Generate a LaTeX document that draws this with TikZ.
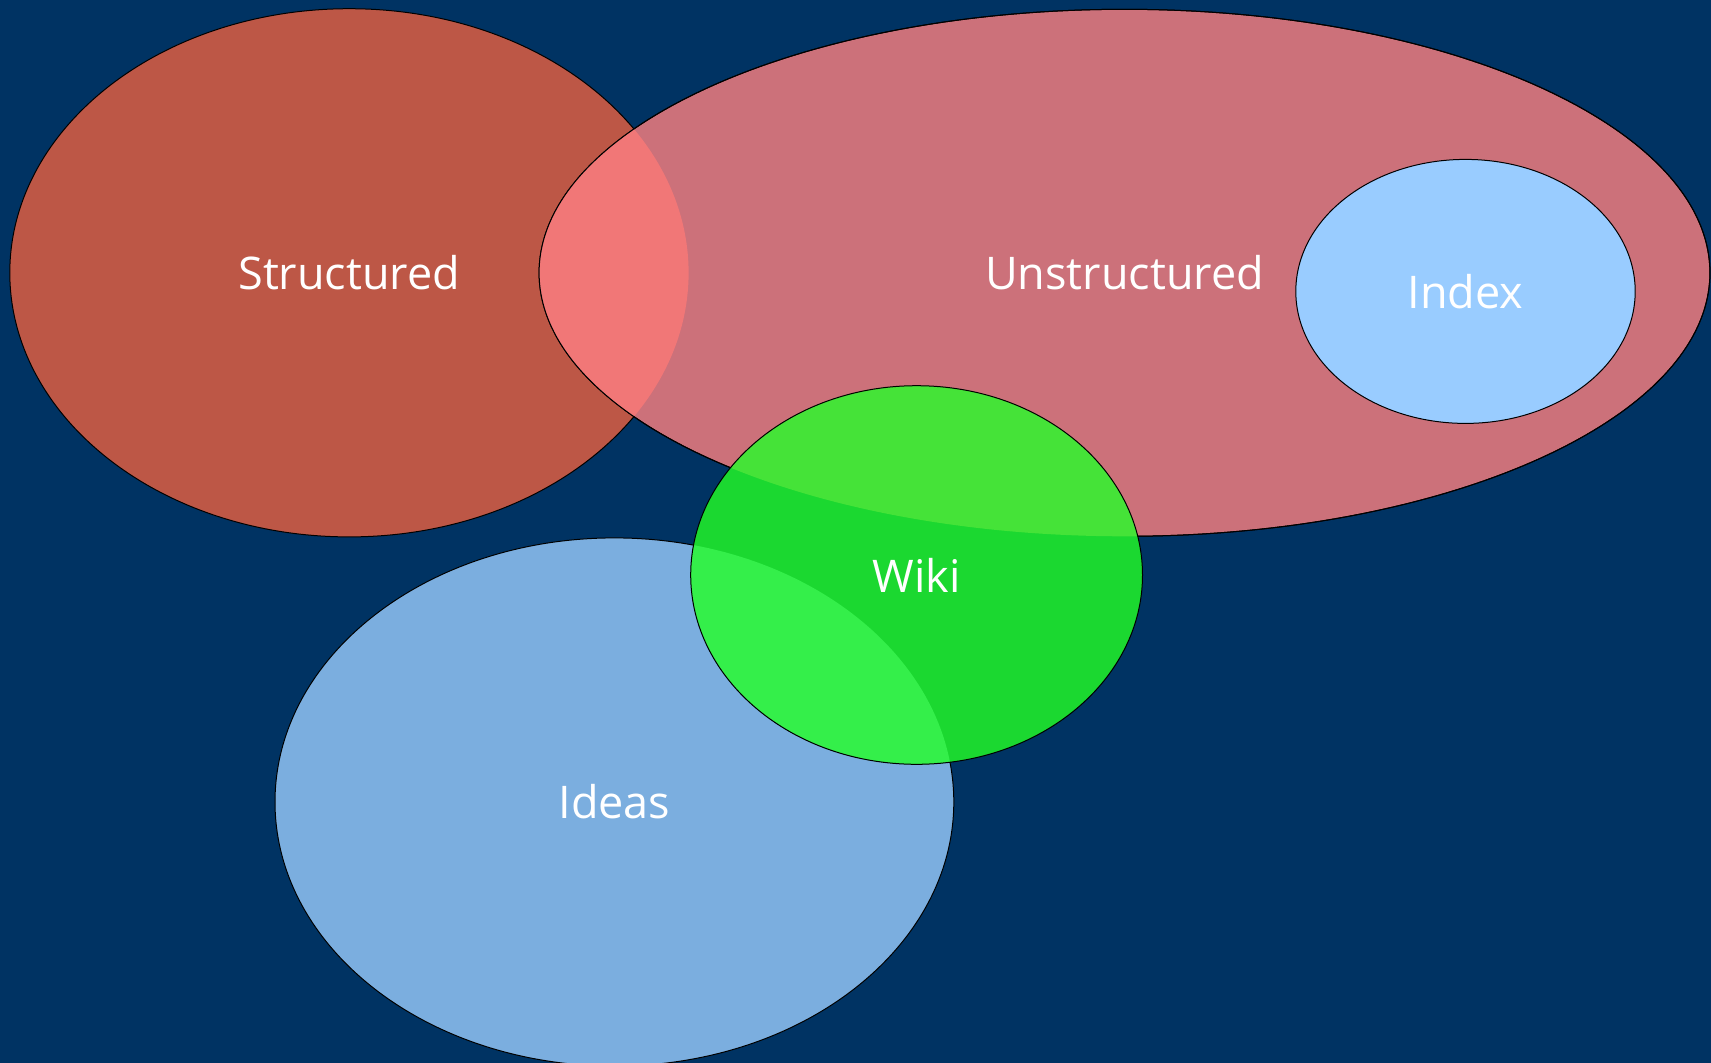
\documentclass[tikz,border=0pt]{standalone}
\usepackage{fontspec}
\setmainfont{Open Sans}
\definecolor{bg}{HTML}{003363}
\definecolor{cstr}{HTML}{BD5746}
\definecolor{cuns}{HTML}{CC717A}
\definecolor{cboth}{HTML}{F17777}
\definecolor{cidx}{HTML}{99CCFF}
\definecolor{cwiki}{HTML}{1BD830}
\definecolor{cwikiu}{HTML}{45E338}
\definecolor{cwikii}{HTML}{34EF4A}
\definecolor{cidea}{HTML}{7BAEDF}
\tikzset{
  outl/.style={draw=black, line width=1pt},
  lbl/.style={text=white, font=\fontsize{45}{52}\selectfont, inner sep=0pt}
}
\begin{document}
\begin{tikzpicture}[x=1pt,y=-1pt]
\fill[bg] (0,0) rectangle (1711,1063);
\useasboundingbox (0,0) rectangle (1711,1063);
% Structured
\fill[cstr,outl] (349.2,272.8) ellipse [x radius=339.4pt, y radius=264.1pt];
% Unstructured
\fill[cuns,outl] (1124.5,272.8) ellipse [x radius=585.4pt, y radius=263.5pt];
\begin{scope}
  \clip (349.2,272.8) ellipse [x radius=339.4pt, y radius=264.1pt];
  \fill[cboth] (1124.5,272.8) ellipse [x radius=585.4pt, y radius=263.5pt];
\end{scope}
\draw[outl] (1124.5,272.8) ellipse [x radius=585.4pt, y radius=263.5pt];
% Index
\fill[cidx,outl] (1465.5,291.4) ellipse [x radius=169.7pt, y radius=132pt];
% Ideas
\fill[cidea,outl] (614.4,802) ellipse [x radius=339.4pt, y radius=264.1pt];
% Wiki
\fill[cwiki] (916.6,575) ellipse [x radius=225.9pt, y radius=189.3pt];
\begin{scope}
  \clip (916.6,575) ellipse [x radius=225.9pt, y radius=189.3pt];
  \fill[cwikiu] (1124.5,272.8) ellipse [x radius=585.4pt, y radius=263.5pt];
  \fill[cwikii] (614.4,802) ellipse [x radius=339.4pt, y radius=264.1pt];
\end{scope}
\draw[outl] (916.6,575) ellipse [x radius=225.9pt, y radius=189.3pt];
% Labels
\node[lbl] (structured) at (349.2,272.8) {Structured};
\node[lbl] (unstructured) at (1124.5,272.8) {Unstructured};
\node[lbl] (index) at (1465.5,291.4) {Index};
\node[lbl] (wiki) at (916.6,575) {Wiki};
\node[lbl] (ideas) at (614.4,802) {Ideas};
\end{tikzpicture}
\end{document}
